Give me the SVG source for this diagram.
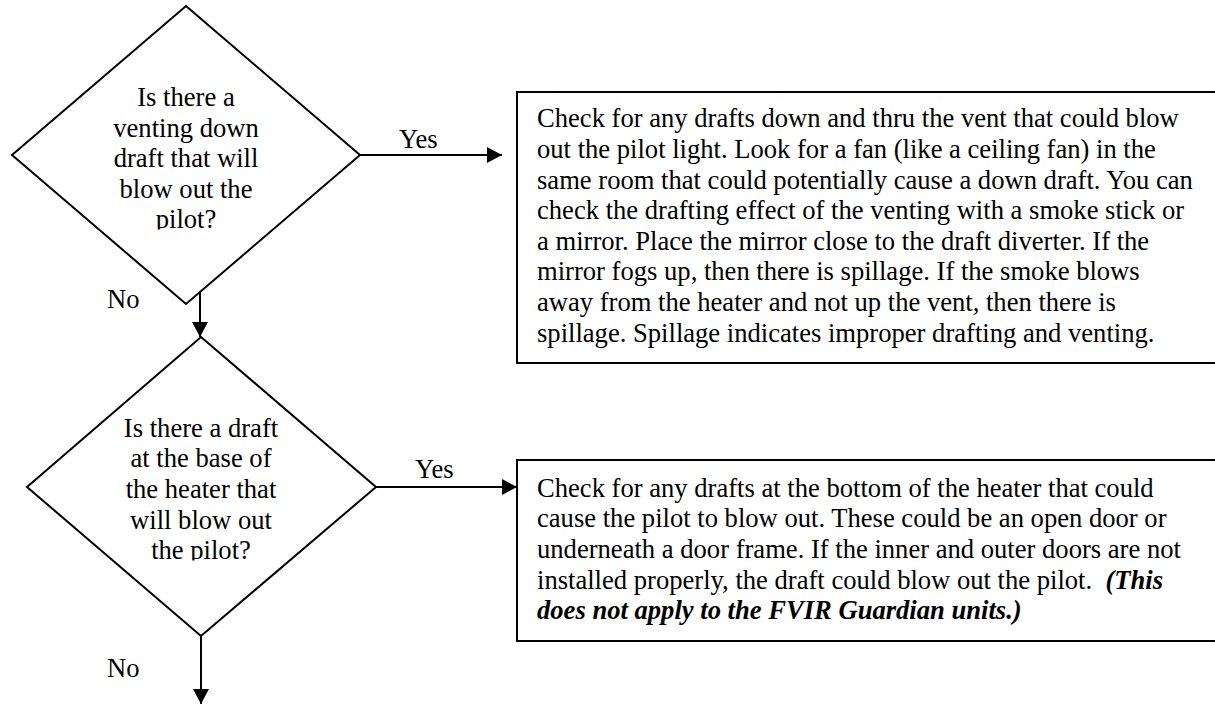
<svg xmlns="http://www.w3.org/2000/svg" width="1215" height="704" viewBox="0 0 1215 704">
<style>
  .t { font-family: "Liberation Serif", "Times New Roman", serif; font-size: 26.6px; fill: #000; }
  .c { text-anchor: middle; }
  .shape { fill: #fff; stroke: #000; stroke-width: 2; }
  .line { fill: none; stroke: #000; stroke-width: 2; }
  .bi { font-weight: bold; font-style: italic; }
</style>
<defs>
  <marker id="arr" markerUnits="userSpaceOnUse" markerWidth="16" markerHeight="16" refX="15" refY="8" orient="auto">
    <path d="M0,0 L15,8 L0,16 z" fill="#000"/>
  </marker>
  <clipPath id="clip1"><rect x="0" y="0" width="400" height="229.5"/></clipPath>
  <clipPath id="clip2"><rect x="0" y="300" width="400" height="260.5"/></clipPath>
</defs>
<rect width="1215" height="704" fill="#fff"/>

<g id="connectors">
  <path class="line" d="M360,155 H502" marker-end="url(#arr)"/>
  <path class="line" d="M200,291 V337" marker-end="url(#arr)"/>
  <path class="line" d="M376,487 H517" marker-end="url(#arr)"/>
  <path class="line" d="M201,636 V704" marker-end="url(#arr)"/>
  <text class="t" x="399" y="148">Yes</text>
  <text class="t" x="107" y="308">No</text>
  <text class="t" x="415" y="478">Yes</text>
  <text class="t" x="107" y="677">No</text>
</g>

<g id="decision1">
  <polygon class="shape" points="186,6 360,155 186,304 12,155"/>
  <g clip-path="url(#clip1)">
    <text class="t c" x="186" y="106">Is there a</text>
    <text class="t c" x="186" y="136.6">venting down</text>
    <text class="t c" x="186" y="167.2">draft that will</text>
    <text class="t c" x="186" y="197.8">blow out the</text>
    <text class="t c" x="186" y="228.4">pilot?</text>
  </g>
</g>

<g id="action1">
  <rect class="shape" x="517" y="92" width="710" height="271"/>
  <text class="t" x="537" y="127.3">Check for any drafts down and thru the vent that could blow</text>
  <text class="t" x="537" y="157.9">out the pilot light. Look for a fan (like a ceiling fan) in the</text>
  <text class="t" x="537" y="188.5">same room that could potentially cause a down draft. You can</text>
  <text class="t" x="537" y="219.1">check the drafting effect of the venting with a smoke stick or</text>
  <text class="t" x="537" y="249.7">a mirror. Place the mirror close to the draft diverter. If the</text>
  <text class="t" x="537" y="280.3">mirror fogs up, then there is spillage. If the smoke blows</text>
  <text class="t" x="537" y="310.9">away from the heater and not up the vent, then there is</text>
  <text class="t" x="537" y="341.5">spillage. Spillage indicates improper drafting and venting.</text>
</g>

<g id="decision2">
  <polygon class="shape" points="201,337 376,487 201,636 27,487"/>
  <g clip-path="url(#clip2)">
    <text class="t c" x="201" y="436.7">Is there a draft</text>
    <text class="t c" x="201" y="467.3">at the base of</text>
    <text class="t c" x="201" y="497.9">the heater that</text>
    <text class="t c" x="201" y="528.5">will blow out</text>
    <text class="t c" x="201" y="559.1">the pilot?</text>
  </g>
</g>

<g id="action2">
  <rect class="shape" x="517" y="460" width="710" height="181"/>
  <text class="t" x="537" y="496.7">Check for any drafts at the bottom of the heater that could</text>
  <text class="t" x="537" y="527.3">cause the pilot to blow out. These could be an open door or</text>
  <text class="t" x="537" y="557.9">underneath a door frame. If the inner and outer doors are not</text>
  <text class="t" x="537" y="588.5" xml:space="preserve">installed properly, the draft could blow out the pilot.  <tspan class="bi">(This</tspan></text>
  <text class="t bi" x="537" y="619.1">does not apply to the FVIR Guardian units.)</text>
</g>
</svg>
